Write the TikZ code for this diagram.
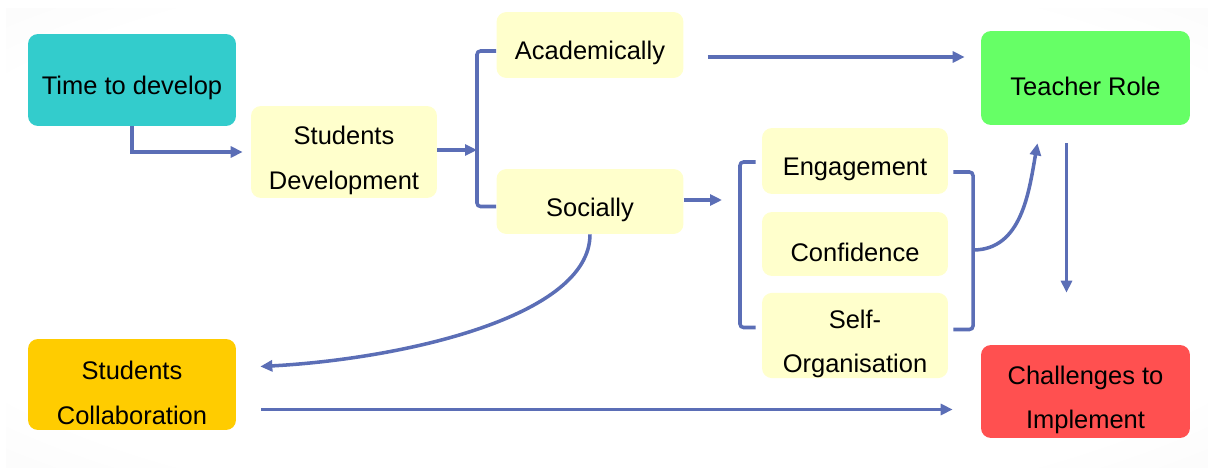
\documentclass[tikz,border=0pt]{standalone}
\usepackage{fontspec}
\setmainfont{Liberation Sans}
\usetikzlibrary{arrows.meta}
\definecolor{linkblue}{RGB}{91,110,182}
\definecolor{tealbox}{HTML}{33CCCC}
\definecolor{creambox}{HTML}{FFFFCC}
\definecolor{greenbox}{HTML}{66FF66}
\definecolor{redbox}{HTML}{FF5050}
\definecolor{goldbox}{HTML}{FFCC00}
\newcommand{\boxstrut}{\rule{0pt}{20pt}}
\pgfdeclareradialshading{panelshade}{\pgfpoint{0bp}{0bp}}{color(0bp)=(white); color(30bp)=(white); color(50bp)=(black!5); color(71bp)=(black!10)}
\tikzset{
	box/.style={rounded corners=0.2cm, align=center, inner sep=0pt, font=\fontsize{14.5}{25.5}\selectfont},
	link/.style={draw=linkblue, line width=2pt},
	arr/.style={link,->},
}
\begin{document}
\begin{tikzpicture}[x=0.02cm,y=-0.02cm,>={Triangle[length=0.24cm,width=0.22cm]}]
				\useasboundingbox (0,0) rectangle (1208,470);
				%Nen
				\shade[shading=panelshade] (6,8) rectangle (1208,467);
				%Cot trai
				\node[box,fill=tealbox,minimum width=4.16cm,minimum height=1.84cm] (time) at (132,80) {\boxstrut Time to develop};
				\node[box,fill=goldbox,minimum width=4.16cm,minimum height=1.82cm] (collab) at (132,384.5) {\boxstrut Students\\Collaboration};
				\node[box,fill=creambox,minimum width=3.72cm,minimum height=1.84cm] (stdev) at (344,152) {\boxstrut Students\\Development};
				%Cot giua
				\node[box,fill=creambox,minimum width=3.74cm,minimum height=1.32cm] (acad) at (590,45) {\boxstrut Academically};
				\node[box,fill=creambox,minimum width=3.74cm,minimum height=1.30cm] (soc) at (590,201.5) {\boxstrut Socially};
				\node[box,fill=creambox,minimum width=3.72cm,minimum height=1.32cm] (eng) at (855,161) {\boxstrut Engagement};
				\node[box,fill=creambox,minimum width=3.72cm,minimum height=1.28cm] (conf) at (855,244) {\boxstrut Confidence};
				\node[box,fill=creambox,minimum width=3.72cm,minimum height=1.66cm] (self) at (855,335.5) {\boxstrut Self-\\Organisation};
				%Cot phai
				\node[box,fill=greenbox,minimum width=4.18cm,minimum height=1.88cm] (teacher) at (1085.5,78) {\boxstrut Teacher Role};
				\node[box,fill=redbox,minimum width=4.18cm,minimum height=1.86cm] (chall) at (1085.5,391.5) {\boxstrut Challenges to\\Implement};
				%Mui ten 1
				\draw[arr,shorten >=0.16cm] (time.south) |- (stdev.west);
				%Ngoac 1
				\coordinate (brA) at (477,150);
				\draw[arr] (stdev.east |- brA) -- (brA);
				\draw[link,rounded corners=2pt] ([shift={(0,6)}]acad.west) -| (brA) |- ([shift={(0,5)}]soc.west);
				%Mui ten 2
				\draw[arr,shorten <=0.48cm,shorten >=0.32cm] ([yshift=-0.24cm]acad.east) -- ([yshift=-0.24cm]acad.east -| teacher.west);
				%Ngoac 2
				\coordinate (brB) at (740,200);
				\draw[arr,shorten >=0.36cm] (soc.east |- brB) -- (brB);
				\draw[link,rounded corners=2pt] ([shift={(-6,1)}]eng.west) -| (brB) |- ([shift={(-6,-8)}]self.west);
				%Ngoac 3
				\coordinate (brC) at (973,250);
				\draw[link,rounded corners=2pt] ([shift={(5,11)}]eng.east) -| (brC) |- ([shift={(5,-6)}]self.east);
				\draw[arr] (brC) to[out=0,in=-100] ([shift={(-48,18)}]teacher.south);
				%Mui ten 3
				\draw[arr] ([shift={(-19,18)}]teacher.south) -- ([shift={(-19,-52)}]chall.north);
				%Mui ten 4,5
				\draw[arr] (soc.south) to[out=-90,in=3,out looseness=0.6] ([shift={(24,-18)}]collab.east);
				\draw[arr,shorten <=0.5cm,shorten >=0.56cm] ([yshift=-0.5cm]collab.east) -- ([yshift=-0.5cm]collab.east -| chall.west);
\end{tikzpicture}
\end{document}
